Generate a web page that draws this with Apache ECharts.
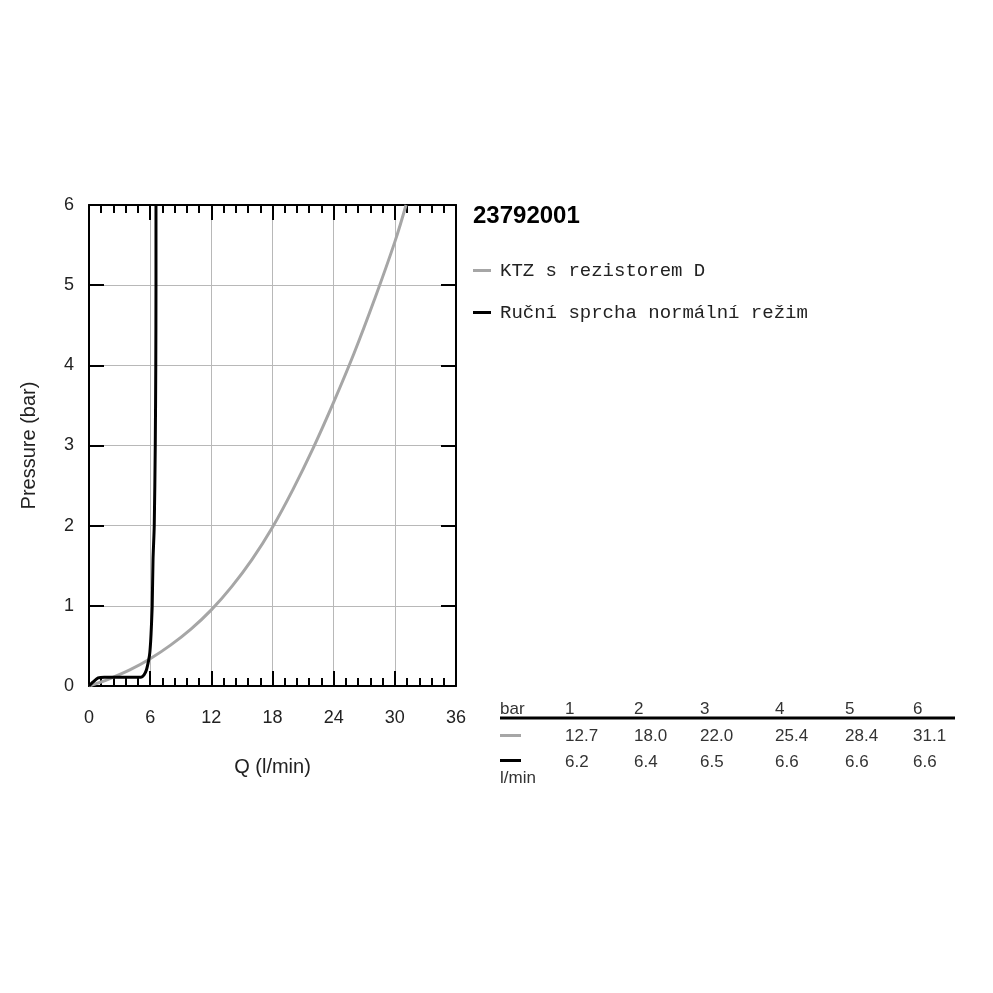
<!DOCTYPE html>
<html>
<head>
<meta charset="utf-8">
<script src="https://cdn.jsdelivr.net/npm/echarts@6/dist/echarts.min.js"></script>
<style>
html,body{margin:0;padding:0;background:#fff;}
#chart{width:993px;height:993px;}
</style>
</head>
<body>
<div id="chart"></div>
<script>
// ---- data ----
var chartTitle = '23792001';
var seriesNames = ['KTZ s rezistorem D', 'Ruční sprcha normální režim'];
var seriesColors = ['#a6a6a6', '#000000'];
// [Q (l/min), pressure (bar)]
var ktzData = [[0,0],[2,0.09],[4,0.2],[6,0.34],[8,0.51],[10,0.71],[12,0.95],[14,1.24],[16,1.58],[18,1.98],[20,2.45],[22,2.97],[24,3.54],[26,4.15],[28,4.82],[30,5.54],[31.1,6]];
var showerData = [[0,0],[0.4,0.05],[0.9,0.1],[1.5,0.11],[3,0.11],[5.1,0.11],[5.4,0.14],[5.63,0.2],[5.85,0.32],[5.96,0.41],[6.05,0.56],[6.12,0.74],[6.2,1],[6.28,1.575],[6.4,2],[6.5,3],[6.55,4],[6.57,5],[6.57,6]];
var xTicks = [0, 6, 12, 18, 24, 30, 36];
var yTicks = [0, 1, 2, 3, 4, 5, 6];
var tableHeader = ['1', '2', '3', '4', '5', '6'];
var tableKtz = ['12.7', '18.0', '22.0', '25.4', '28.4', '31.1'];
var tableShower = ['6.2', '6.4', '6.5', '6.6', '6.6', '6.6'];
var tableUnitTop = 'bar';
var tableUnitBottom = 'l/min';

// ---- chart ----
var chart = echarts.init(document.getElementById('chart'), null, {renderer: 'canvas'});
var axisFont = 'Liberation Sans, Arial, sans-serif';
var monoFont = 'Liberation Mono, DejaVu Sans Mono, monospace';

function xAxisCfg(pos, showLabel) {
  return {
    type: 'value', position: pos, min: xTicks[0], max: xTicks[xTicks.length - 1],
    interval: xTicks[1] - xTicks[0],
    name: showLabel ? 'Q (l/min)' : '', nameLocation: 'middle', nameGap: 71,
    nameTextStyle: {fontFamily: axisFont, fontSize: 20, color: '#222'},
    axisLine: {show: true, onZero: false, lineStyle: {color: '#000', width: 2}},
    axisTick: {show: true, inside: true, length: 15, lineStyle: {color: '#000', width: 2}},
    minorTick: {show: true, splitNumber: 5, length: 8, lineStyle: {color: '#000', width: 2}},
    axisLabel: {show: showLabel, margin: 23, fontFamily: axisFont, fontSize: 18, color: '#222'},
    splitLine: {show: showLabel, lineStyle: {color: '#b8b8b8', width: 1}}
  };
}
function yAxisCfg(pos, showLabel) {
  return {
    type: 'value', position: pos, min: yTicks[0], max: yTicks[yTicks.length - 1],
    interval: yTicks[1] - yTicks[0],
    name: showLabel ? 'Pressure (bar)' : '', nameLocation: 'middle', nameGap: 50,
    nameTextStyle: {fontFamily: axisFont, fontSize: 20, color: '#222'},
    axisLine: {show: true, onZero: false, lineStyle: {color: '#000', width: 2}},
    axisTick: {show: true, inside: true, length: 15, lineStyle: {color: '#000', width: 2}},
    axisLabel: {show: showLabel, margin: 15, fontFamily: axisFont, fontSize: 18, color: '#222'},
    splitLine: {show: showLabel, lineStyle: {color: '#b8b8b8', width: 1}}
  };
}

var gridLeft = 89, gridTop = 205, gridW = 367, gridH = 481;

// table graphics
var colX = [565, 634, 700, 775, 845, 913];
var graphics = [];
var tFont = '17px ' + axisFont;
graphics.push({type: 'text', left: 500, top: 701, style: {text: tableUnitTop, font: tFont, fill: '#333'}});
graphics.push({type: 'rect', shape: {x: 500, y: 716.5, width: 455, height: 3}, style: {fill: '#000'}});
graphics.push({type: 'rect', shape: {x: 500, y: 734, width: 21, height: 3}, style: {fill: seriesColors[0]}});
graphics.push({type: 'rect', shape: {x: 500, y: 759, width: 21, height: 3}, style: {fill: seriesColors[1]}});
graphics.push({type: 'text', left: 500, top: 770, style: {text: tableUnitBottom, font: tFont, fill: '#333'}});
for (var i = 0; i < tableHeader.length; i++) {
  graphics.push({type: 'text', left: colX[i], top: 701, style: {text: tableHeader[i], font: tFont, fill: '#333'}});
  graphics.push({type: 'text', left: colX[i], top: 728, style: {text: tableKtz[i], font: tFont, fill: '#333'}});
  graphics.push({type: 'text', left: colX[i], top: 754, style: {text: tableShower[i], font: tFont, fill: '#333'}});
}

var option = {
  animation: false,
  backgroundColor: '#fff',
  title: {
    text: chartTitle, left: 473, top: 204, padding: 0,
    textStyle: {fontFamily: axisFont, fontSize: 24, fontWeight: 'bold', color: '#000'}
  },
  legend: {
    orient: 'vertical', left: 473, top: 261, itemGap: 23, padding: 0,
    icon: 'rect', itemWidth: 18, itemHeight: 3,
    textStyle: {fontFamily: monoFont, fontSize: 19, color: '#222', padding: [0, 0, 0, 4]},
    data: seriesNames
  },
  grid: {left: gridLeft, top: gridTop, width: gridW, height: gridH, containLabel: false},
  xAxis: [xAxisCfg('bottom', true), xAxisCfg('top', false)],
  yAxis: [yAxisCfg('left', true), yAxisCfg('right', false)],
  series: [
    {name: seriesNames[0], type: 'line', data: ktzData, smooth: 0.4, symbol: 'none',
     lineStyle: {color: seriesColors[0], width: 3}, itemStyle: {color: seriesColors[0]}, clip: true},
    {name: seriesNames[1], type: 'line', data: showerData, smooth: 0.25, symbol: 'none',
     lineStyle: {color: seriesColors[1], width: 3}, itemStyle: {color: seriesColors[1]}, clip: true}
  ],
  graphic: graphics
};
chart.setOption(option);
</script>
</body>
</html>
